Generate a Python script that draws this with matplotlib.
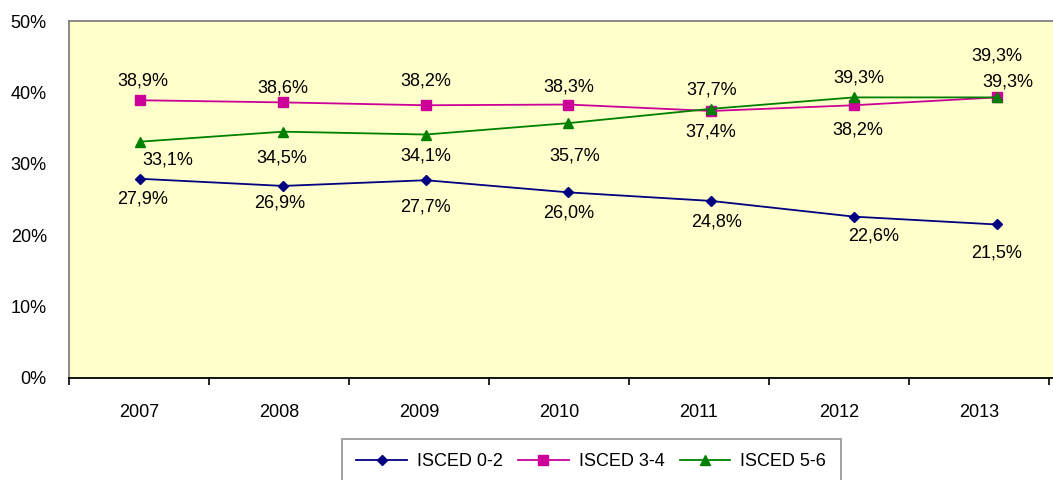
import matplotlib.pyplot as plt
import numpy as np
from matplotlib.ticker import FixedLocator

plt.rcParams["font.family"] = ["Liberation Sans", "DejaVu Sans"]

years = ["2007", "2008", "2009", "2010", "2011", "2012", "2013"]
isced_02 = [27.9, 26.9, 27.7, 26.0, 24.8, 22.6, 21.5]
isced_34 = [38.9, 38.6, 38.2, 38.3, 37.4, 38.2, 39.3]
isced_56 = [33.1, 34.5, 34.1, 35.7, 37.7, 39.3, 39.3]

# label offsets in pixels (dx, dy), dy positive = above the point
off_02 = [(2, -20), (-3, -17), (0, -27), (0, -21), (5, -21), (20, -19), (0, -29)]
off_34 = [(2, 19), (0, 14), (0, 24), (0, 18), (0, -21), (4, -25), (11, 15)]
off_56 = [(27, -18), (-1, -26), (0, -21), (6, -33), (0, 19), (5, 19), (0, 41)]

series = [
    ("ISCED 0-2", isced_02, off_02, "#000080", "D", 5),
    ("ISCED 3-4", isced_34, off_34, "#CC0099", "s", 6.5),
    ("ISCED 5-6", isced_56, off_56, "#008000", "^", 7),
]

fig = plt.figure(figsize=(10.53, 4.8), dpi=100)
# plot area runs past the right edge of the picture, as in the original
rect = [69 / 1053, 1 - 378 / 480, 999 / 1053, 357 / 480]
ax = fig.add_axes(rect)
ax.set_facecolor("#FFFFCC")

# in the original the category axis is a little narrower than the data layer
n = len(years)
x = np.arange(n)
ax.set_xlim(-0.5, -0.5 + n * 999 / 980)
ax.set_ylim(0, 50)
ax.set_yticks(range(0, 51, 10))
ax.set_yticklabels([f"{v}%" for v in range(0, 51, 10)], fontsize=13)
ax.tick_params(axis="y", length=0, pad=16)

ax.set_xticks(x)
ax.set_xticklabels(years, fontsize=13)
ax.xaxis.set_minor_locator(FixedLocator(np.arange(-0.5, n, 1)))
ax.tick_params(axis="x", which="major", length=0, pad=19)
ax.tick_params(axis="x", which="minor", length=5, width=1.2, direction="out")

for side in ["left", "top", "right"]:
    ax.spines[side].set_color("#808080")
    ax.spines[side].set_linewidth(1.3)
ax.spines["bottom"].set_color("black")
ax.spines["bottom"].set_linewidth(1.3)

ax_data = fig.add_axes(rect, sharey=ax)
ax_data.patch.set_visible(False)
ax_data.axis("off")
ax_data.set_xlim(-0.5, n - 0.5)

for name, vals, offs, color, marker, ms in series:
    ax_data.plot(x, vals, color=color, marker=marker, markersize=ms,
                 linewidth=1.3, label=name)
    for xi, v, (dx, dy) in zip(x, vals, offs):
        ax_data.annotate(f"{v:.1f}%".replace(".", ","), (xi, v), xytext=(dx, dy),
                         textcoords="offset pixels", ha="center", va="center",
                         fontsize=13)

leg = fig.legend(loc="upper left", bbox_to_anchor=(342 / 1053, 1 - 439 / 480),
                 ncol=3, fontsize=13, frameon=True, fancybox=False,
                 edgecolor="#808080", handlelength=2.8, columnspacing=0.85,
                 borderpad=0.8, handletextpad=0.55, borderaxespad=0)
leg.get_frame().set_linewidth(1.3)

fig.savefig("out.png", dpi=100)
